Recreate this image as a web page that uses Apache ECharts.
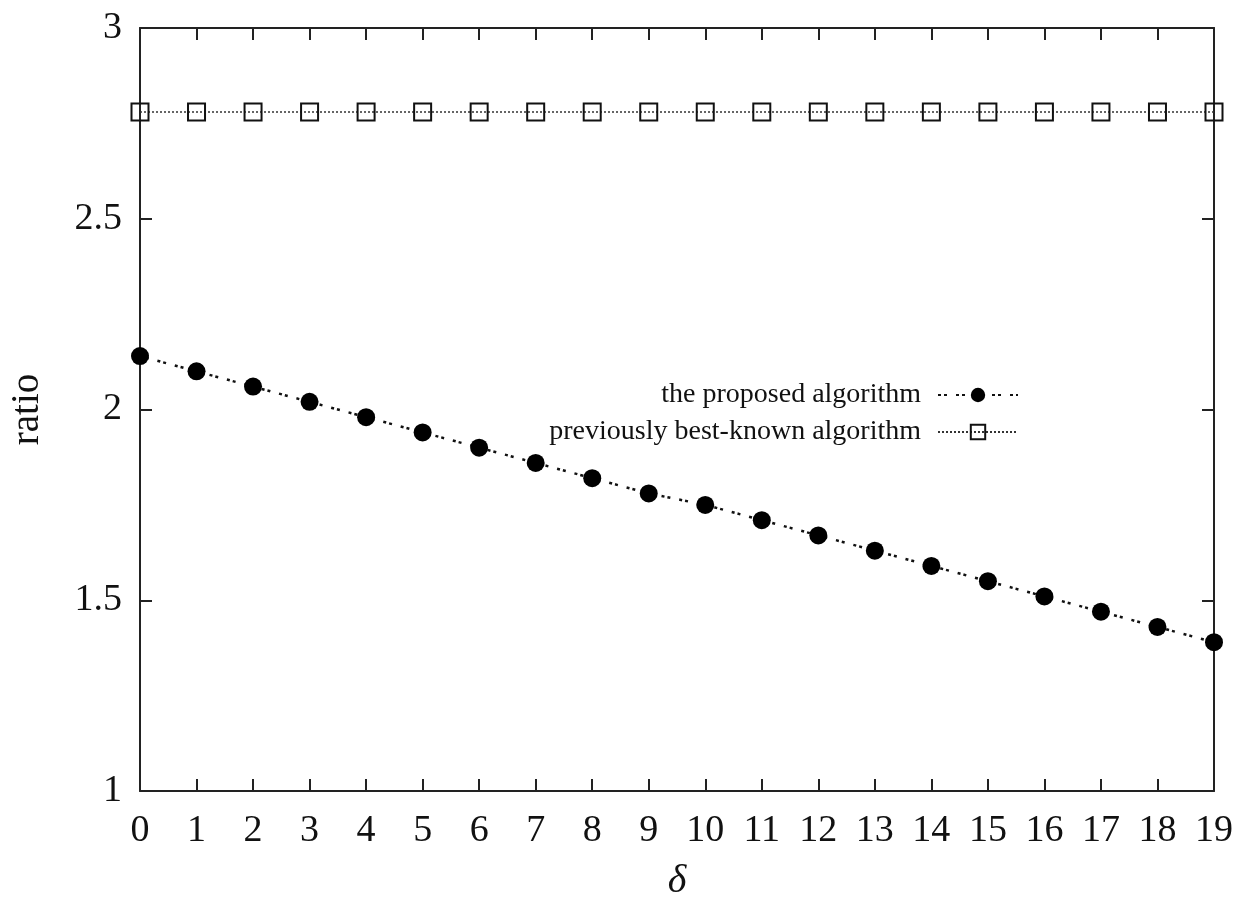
<!DOCTYPE html>
<html>
<head>
<meta charset="utf-8">
<script src="https://cdn.jsdelivr.net/npm/echarts@6/dist/echarts.min.js"></script>
<style>
  html, body { margin: 0; padding: 0; background: #fff; }
  #chart { width: 1255px; height: 903px; }
</style>
</head>
<body>
<div id="chart"></div>
<script>
const deltas = [0, 1, 2, 3, 4, 5, 6, 7, 8, 9, 10, 11, 12, 13, 14, 15, 16, 17, 18, 19];
const proposed = [2.14, 2.10, 2.06, 2.02, 1.98, 1.94, 1.90, 1.86, 1.82, 1.78, 1.75, 1.71, 1.67, 1.63, 1.59, 1.55, 1.51, 1.47, 1.43, 1.39];
const previous = [2.78, 2.78, 2.78, 2.78, 2.78, 2.78, 2.78, 2.78, 2.78, 2.78, 2.78, 2.78, 2.78, 2.78, 2.78, 2.78, 2.78, 2.78, 2.78, 2.78];
const seriesNames = ['the proposed algorithm', 'previously best-known algorithm'];
const yTicks = [1, 1.5, 2, 2.5, 3];

const FONT = '"Liberation Serif", "DejaVu Serif", serif';
const INK = '#111';

const chart = echarts.init(document.getElementById('chart'), null, { renderer: 'canvas' });

const axisCommon = {
  axisLine: { show: true, onZero: false, lineStyle: { color: '#222', width: 2 } },
  axisTick: { show: true, inside: true, length: 12, lineStyle: { color: '#222', width: 2 } },
  splitLine: { show: false }
};

const option = {
  backgroundColor: '#fff',
  animation: false,
  grid: { left: 140, right: 41, top: 28, bottom: 112, containLabel: false, outerBoundsMode: 'none' },
  legend: {
    orient: 'vertical',
    align: 'right',
    right: 231,
    top: 376,
    itemWidth: 80,
    itemHeight: 18,
    itemGap: 9,
    textStyle: { fontFamily: FONT, fontSize: 28, color: INK, padding: [0, 12, 0, 0] },
    data: seriesNames
  },
  xAxis: [
    Object.assign({}, axisCommon, {
      type: 'value', position: 'bottom', min: deltas[0], max: deltas[deltas.length - 1], interval: 1,
      name: 'δ', nameLocation: 'middle', nameGap: 70,
      nameTextStyle: { fontFamily: FONT, fontSize: 40, fontStyle: 'italic', color: INK },
      axisLabel: { show: true, margin: 21, fontFamily: FONT, fontSize: 38, color: INK }
    }),
    Object.assign({}, axisCommon, {
      type: 'value', position: 'top', min: deltas[0], max: deltas[deltas.length - 1], interval: 1,
      axisLabel: { show: false }
    })
  ],
  yAxis: [
    Object.assign({}, axisCommon, {
      type: 'value', position: 'left', min: yTicks[0], max: yTicks[yTicks.length - 1], interval: 0.5,
      name: 'ratio', nameLocation: 'middle', nameGap: 93, nameRotate: 90,
      nameTextStyle: { fontFamily: FONT, fontSize: 39, color: INK },
      axisLabel: { show: true, margin: 18, fontFamily: FONT, fontSize: 38, color: INK }
    }),
    Object.assign({}, axisCommon, {
      type: 'value', position: 'right', min: yTicks[0], max: yTicks[yTicks.length - 1], interval: 0.5,
      axisLabel: { show: false }
    })
  ],
  series: [
    {
      name: seriesNames[0],
      type: 'line',
      xAxisIndex: 0, yAxisIndex: 0,
      data: deltas.map((d, i) => [d, proposed[i]]),
      symbol: 'circle',
      symbolSize: 18,
      clip: false,
      itemStyle: { color: '#000' },
      lineStyle: { color: '#111', width: 2.5, type: [3, 3, 3, 9] },
      z: 3
    },
    {
      name: seriesNames[1],
      type: 'line',
      xAxisIndex: 0, yAxisIndex: 0,
      data: deltas.map((d, i) => [d, previous[i]]),
      symbol: 'rect',
      symbolSize: 17,
      clip: false,
      itemStyle: { color: 'rgba(0,0,0,0)', borderColor: '#111', borderWidth: 2 },
      lineStyle: { color: '#333', width: 1.6, type: [2, 2] },
      z: 3
    }
  ]
};

chart.setOption(option);
</script>
</body>
</html>
